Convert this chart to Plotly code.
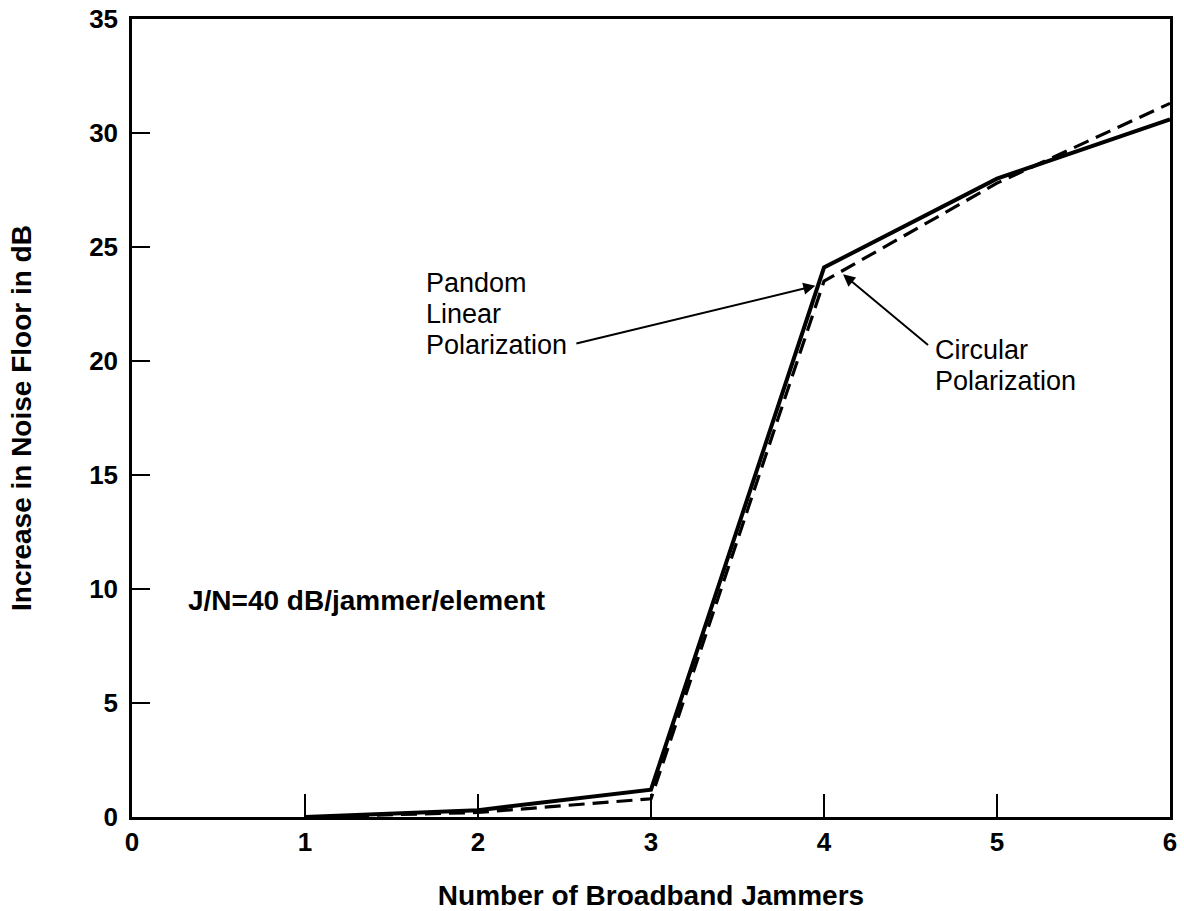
import plotly.graph_objects as go

jammers = [1, 2, 3, 4, 5, 6]
random_linear = [0.0, 0.3, 1.2, 24.1, 28.0, 30.6]
circular = [0.0, 0.2, 0.8, 23.5, 27.8, 31.3]

x_ticks = [0, 1, 2, 3, 4, 5, 6]
y_ticks = [0, 5, 10, 15, 20, 25, 30, 35]

random_label_lines = ["Pandom", "Linear", "Polarization"]
circular_label_lines = ["Circular", "Polarization"]

FONT = "Liberation Sans, Arial, Helvetica, sans-serif"

fig = go.Figure()
fig.add_trace(go.Scatter(x=jammers, y=random_linear, mode="lines",
                         line=dict(color="black", width=4), name="Random Linear Polarization"))
fig.add_trace(go.Scatter(x=jammers, y=circular, mode="lines",
                         line=dict(color="black", width=3.2, dash="16px,8px"), name="Circular Polarization"))

annotations = [
    dict(x=0.31, y=9.5, xref="x", yref="y", text="<b>J/N=40 dB/jammer/element</b>",
         showarrow=False, xanchor="left", yanchor="middle",
         font=dict(family=FONT, size=28, color="black")),
]
for i, line in enumerate(random_label_lines):
    annotations.append(dict(x=1.69, y=23.41 - i * 1.36, xref="x", yref="y", text=line,
                            showarrow=False, xanchor="left", yanchor="middle",
                            font=dict(family=FONT, size=27, color="black")))
for i, line in enumerate(circular_label_lines):
    annotations.append(dict(x=4.63, y=20.47 - i * 1.36, xref="x", yref="y", text=line,
                            showarrow=False, xanchor="left", yanchor="middle",
                            font=dict(family=FONT, size=27, color="black")))
annotations += [
    dict(x=3.95, y=23.3, ax=2.56, ay=20.75, xref="x", yref="y", axref="x", ayref="y",
         text="", showarrow=True, arrowhead=2, arrowsize=1.2, arrowwidth=2, arrowcolor="black"),
    dict(x=4.11, y=23.8, ax=4.61, ay=20.65, xref="x", yref="y", axref="x", ayref="y",
         text="", showarrow=True, arrowhead=2, arrowsize=1.2, arrowwidth=2, arrowcolor="black"),
]

fig.update_layout(
    width=1184, height=911,
    margin=dict(l=132, r=14, t=19, b=94),
    paper_bgcolor="white", plot_bgcolor="white",
    showlegend=False,
    annotations=annotations,
    font=dict(family=FONT, color="black"),
)
fig.update_xaxes(
    range=[0, 6], tickvals=x_ticks, ticktext=[f"<b>{v}</b>" for v in x_ticks],
    automargin=False,
    showgrid=False, zeroline=False, showline=True, linecolor="black", linewidth=2.5, mirror=True,
    ticks="inside", ticklen=23, tickwidth=2, tickcolor="black",
    tickfont=dict(family=FONT, size=26, color="black"), ticklabelstandoff=0,
    title=dict(text="<b>Number of Broadband Jammers</b>", font=dict(family=FONT, size=28, color="black"), standoff=31),
)
fig.update_yaxes(
    range=[0, 35], tickvals=y_ticks, ticktext=[f"<b>{v}</b>" for v in y_ticks],
    automargin=False,
    showgrid=False, zeroline=False, showline=True, linecolor="black", linewidth=2.5, mirror=True,
    ticks="inside", ticklen=18, tickwidth=2, tickcolor="black",
    tickfont=dict(family=FONT, size=26, color="black"), ticklabelstandoff=6,
    title=dict(text="<b>Increase in Noise Floor in dB</b>", font=dict(family=FONT, size=28, color="black"), standoff=50),
)

fig.write_html("out.html")
